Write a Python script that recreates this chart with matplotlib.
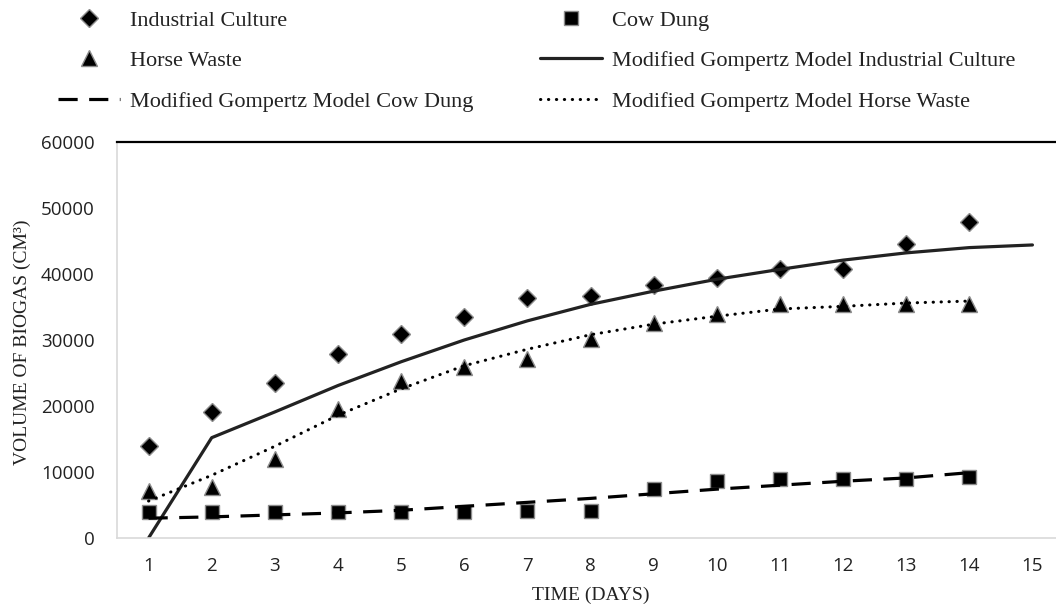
import matplotlib
matplotlib.use("Agg")
import matplotlib.pyplot as plt

# data
days = [1, 2, 3, 4, 5, 6, 7, 8, 9, 10, 11, 12, 13, 14]
industrial = [14000, 19100, 23500, 27900, 30900, 33500, 36300, 36700, 38300, 39400, 40800, 40800, 44600, 47900]
cow_dung = [3900, 4000, 4000, 4000, 4000, 4000, 4100, 4100, 7500, 8700, 8900, 8900, 9000, 9300]
horse = [7100, 7800, 12000, 19600, 23800, 25900, 27100, 30100, 32600, 33900, 35400, 35400, 35400, 35400]

model_days_ic = [1, 2, 3, 4, 5, 6, 7, 8, 9, 10, 11, 12, 13, 14, 15]
model_ic = [0, 15200, 19100, 23100, 26700, 30000, 32900, 35400, 37400, 39200, 40700, 42100, 43200, 44000, 44400]
model_days = [1, 2, 3, 4, 5, 6, 7, 8, 9, 10, 11, 12, 13, 14]
model_cd = [3000, 3200, 3500, 3800, 4200, 4800, 5400, 6000, 6700, 7400, 8000, 8600, 9100, 9900]
model_hw = [5600, 9500, 13900, 18600, 22600, 26100, 28600, 30800, 32400, 33600, 34700, 35100, 35600, 35900]

serif = "Liberation Serif"
W, H = 1056, 605
fig = plt.figure(figsize=(W / 100, H / 100), dpi=100)
ax = fig.add_axes([117 / W, 1 - 538 / H, (1064 - 117) / W, (538 - 142) / H])

mk = dict(linestyle="none", color="black", markeredgecolor="#8c8c8c", markeredgewidth=1.0)
h_ic, = ax.plot(days, industrial, marker="D", markersize=9.5, label="Industrial Culture", **mk)
h_cd, = ax.plot(days, cow_dung, marker="s", markersize=10, label="Cow Dung", **mk)
h_hw, = ax.plot(days, horse, marker="^", markersize=11, label="Horse Waste", **mk)

h_mic, = ax.plot(model_days_ic, model_ic, color="#222222", linewidth=2.3,
                 solid_capstyle="round", label="Modified Gompertz Model Industrial Culture")
h_mcd, = ax.plot(model_days, model_cd, color="black", linewidth=2.3,
                 linestyle=(0, (6.0, 3.6)), label="Modified Gompertz Model Cow Dung")
h_mhw, = ax.plot(model_days, model_hw, color="black", linewidth=2.2,
                 linestyle=(0, (0.1, 2.5)), dash_capstyle="round",
                 label="Modified Gompertz Model Horse Waste")

ax.set_xlim(0.5, 15.5)
ax.set_ylim(0, 60000)
ax.set_xticks(range(1, 16))
ax.set_yticks(range(0, 60001, 10000))
ax.tick_params(length=0, labelsize=13.5)
ax.tick_params(axis="y", pad=16)
ax.tick_params(axis="x", pad=14)
for lab in ax.get_xticklabels() + ax.get_yticklabels():
    lab.set_fontfamily("Open Sans")
    lab.set_color("#222222")

ax.spines["right"].set_visible(False)
ax.spines["top"].set_color("black")
ax.spines["top"].set_linewidth(1.6)
ax.spines["left"].set_color("#d9d9d9")
ax.spines["bottom"].set_color("#d9d9d9")
ax.spines["left"].set_linewidth(1.2)
ax.spines["bottom"].set_linewidth(1.2)

fig.text(591 / W, 1 - 595 / H, "TIME (DAYS)", fontsize=14, family=serif,
         ha="center", va="center", color="#222222")
fig.text(22 / W, 1 - 342 / H, "VOLUME OF BIOGAS (CM³)", fontsize=14, family=serif,
         ha="center", va="center", rotation=90, color="#222222")

leg_kw = dict(frameon=False, loc="upper left", borderpad=0, borderaxespad=0,
              handlelength=2.8, handletextpad=0.45, labelspacing=0.9,
              numpoints=1, prop={"family": serif, "size": 16})
leg1 = fig.legend([h_ic, h_hw, h_mcd], [h.get_label() for h in (h_ic, h_hw, h_mcd)],
                  bbox_to_anchor=(58 / W, 1 - 10 / H), **leg_kw)
leg2 = fig.legend([h_cd, h_mic, h_mhw], [h.get_label() for h in (h_cd, h_mic, h_mhw)],
                  bbox_to_anchor=(540 / W, 1 - 10 / H), **leg_kw)
for leg in (leg1, leg2):
    for t in leg.get_texts():
        t.set_color("#222222")

fig.savefig("out.png", dpi=100)
